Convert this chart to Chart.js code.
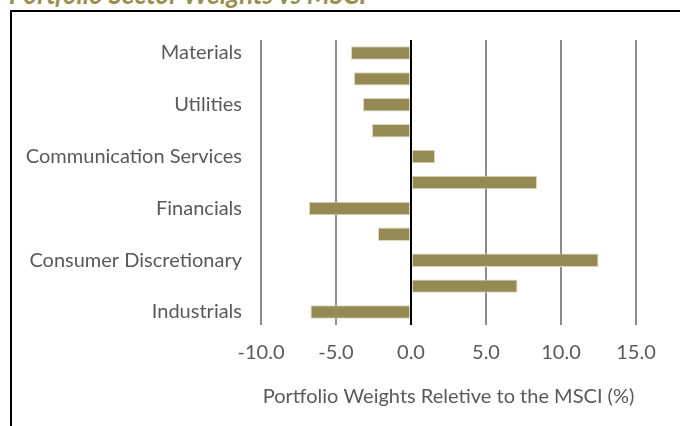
<!DOCTYPE html>
<html><head><meta charset="utf-8">
<script src="https://cdn.jsdelivr.net/npm/chart.js@4.4.1/dist/chart.umd.min.js"></script>
<style>
html,body{margin:0;padding:0;background:#fff;width:680px;height:426px;overflow:hidden;position:relative}
#title{position:absolute;left:9px;top:-19px;font:italic bold 26px/26px Lato;color:#9a8f50;white-space:nowrap}
#frame{position:absolute;left:10px;top:10px;width:700px;height:500px;border-left:2px solid #000;border-top:2px solid #000;pointer-events:none}
#wrap{position:absolute;left:0;top:0;width:680px;height:426px}
</style></head><body>
<div id="title">Portfolio Sector Weights vs MSCI</div>
<div id="wrap"><canvas id="c" width="680" height="426"></canvas></div>
<div id="frame"></div>
<script>
const categories = ['Materials','','Utilities','','Communication Services','','Financials','','Consumer Discretionary','','Industrials'];
const relativeWeights = [-4.0, -3.8, -3.2, -2.6, 1.6, 8.4, -6.8, -2.2, 12.5, 7.1, -6.7];
const xTicks = [-10, -5, 0, 5, 10, 15];
const axisTitle = 'Portfolio Weights Reletive to the MSCI (%)';

const FONT = 'Lato';
new Chart(document.getElementById('c'), {
  type: 'bar',
  data: {
    labels: categories,
    datasets: [{
      data: relativeWeights,
      backgroundColor: '#958a53',
      borderColor: '#dcd8b8',
      borderWidth: 1,
      borderSkipped: false,
      categoryPercentage: 1,
      barPercentage: 0.52
    }]
  },
  options: {
    indexAxis: 'y',
    responsive: false,
    animation: false,
    devicePixelRatio: 1,
    layout: { padding: { top: 40, right: 44, left: 0, bottom: 0 } },
    plugins: { legend: { display: false }, tooltip: { enabled: false } },
    scales: {
      x: {
        min: xTicks[0], max: xTicks[xTicks.length - 1],
        afterBuildTicks: s => { s.ticks = xTicks.map(v => ({ value: v })); },
        afterFit: s => { s.height = 101; },
        border: { display: false },
        grid: {
          drawTicks: false,
          color: c => c.tick && c.tick.value === 0 ? '#000000' : '#8c8c8c',
          lineWidth: 2
        },
        ticks: {
          padding: 16,
          color: '#595959',
          font: { family: FONT, size: 20 },
          callback: v => Number(v).toFixed(1)
        },
        title: {
          display: true, text: axisTitle, color: '#595959',
          font: { family: FONT, size: 20 },
          padding: { top: 0, bottom: 17 }
        }
      },
      y: {
        afterFit: s => { s.width = 261; },
        border: { display: false },
        grid: { display: false, drawTicks: false },
        ticks: {
          autoSkip: false,
          padding: 19,
          color: '#595959',
          font: { family: FONT, size: 20 }
        }
      }
    }
  }
});
</script>
</body></html>
